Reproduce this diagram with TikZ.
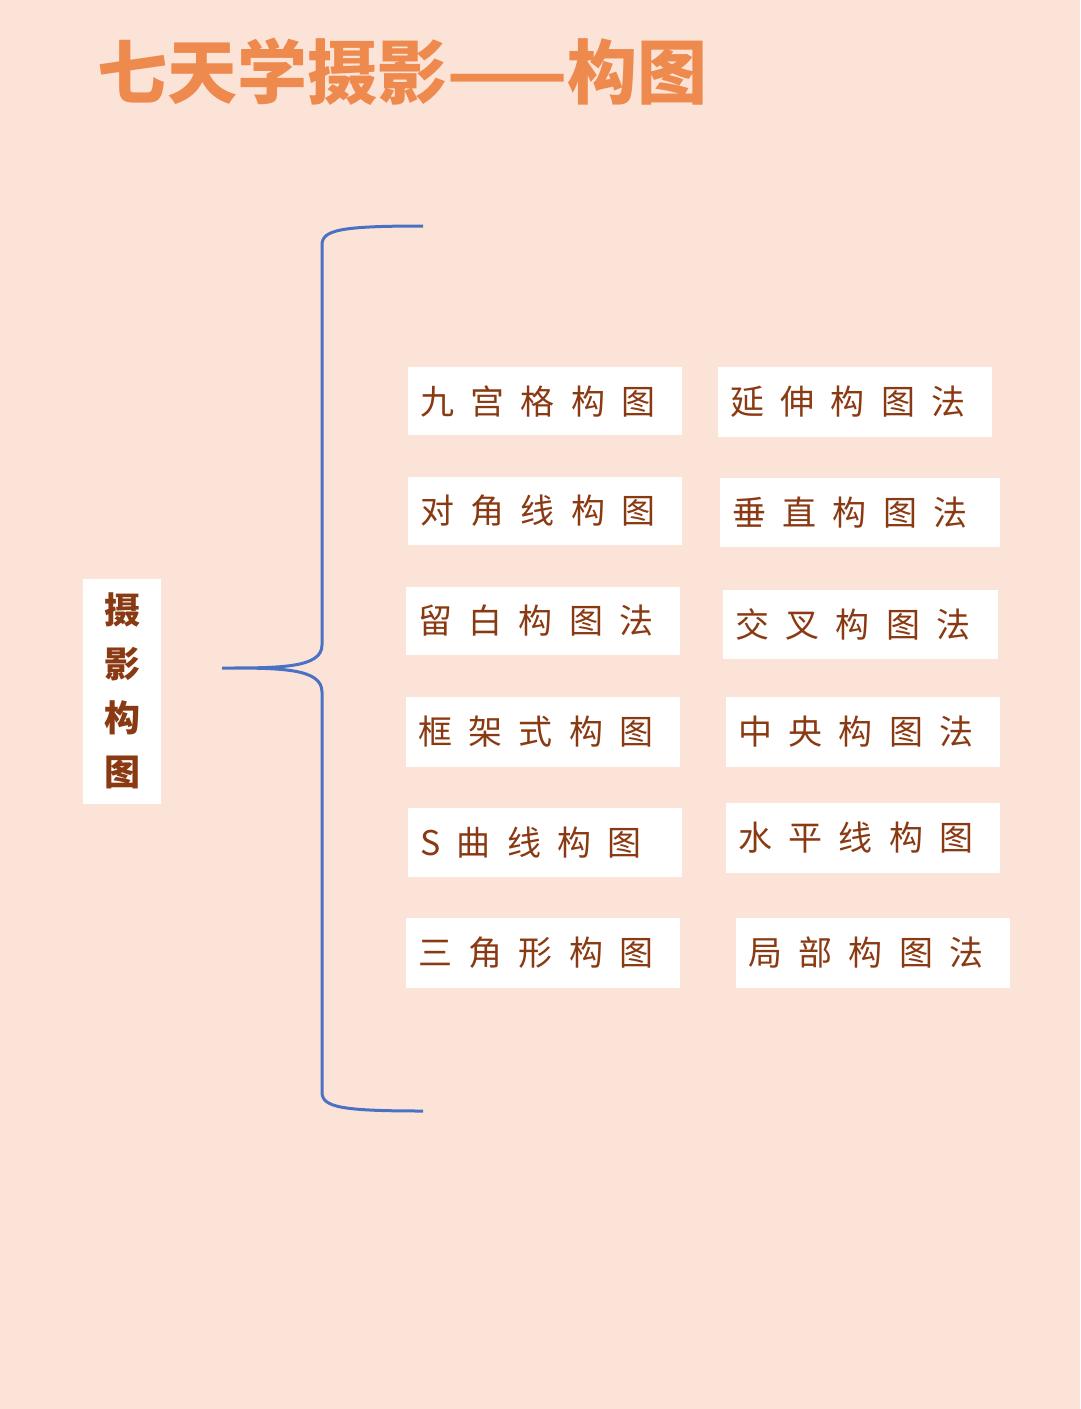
\documentclass[tikz,border=0pt]{standalone}
\usepackage{fontspec}
\newfontfamily\cjk[LetterSpace=48]{Noto Sans CJK SC}
\newfontfamily\cjkn{Noto Sans CJK SC}
\definecolor{bg}{HTML}{FCE3D8}
\definecolor{tx}{HTML}{8A3A12}
\definecolor{br}{HTML}{4A72C4}
\definecolor{ti}{HTML}{EE8A4E}
\begin{document}
\begin{tikzpicture}[x=1pt,y=-1pt,
  box/.style={fill=white,inner sep=0pt,font=\cjk\fontsize{34}{40}\selectfont,text=tx}]
\fill[bg] (0,0) rectangle (1080,1409);
\useasboundingbox (0,0) rectangle (1080,1409);
\node[text=ti,font=\cjkn\fontsize{70}{78}\selectfont\bfseries,anchor=west,inner sep=0pt] (title) at (97,72) {七天学摄影——构图};
\draw[br,line width=3pt] (423,226) .. controls (340,226) and (322,230) .. (322,245)
  -- (322,645) .. controls (322,668) and (280,668) .. (222,668)
  (222,668) .. controls (280,668) and (322,668) .. (322,692)
  -- (322,1092) .. controls (322,1107) and (340,1111) .. (423,1111);
\node[fill=white,minimum width=78pt,minimum height=225pt,text=tx,align=center,inner sep=0pt,font=\cjkn\fontsize{36}{54}\selectfont\bfseries] (main) at (122,691) {摄\\影\\构\\图};
\foreach \n/\a/\b/\c/\d/\t in {
 l1/408/367/682/435/九宫格构图, l2/408/477/682/545/对角线构图, l3/406/587/680/655/留白构图法,
 l4/406/697/680/767/框架式构图, l5/408/808/682/877/S曲线构图, l6/406/918/680/988/三角形构图,
 r1/718/367/992/437/延伸构图法, r2/720/478/1000/547/垂直构图法, r3/723/590/998/659/交叉构图法,
 r4/726/697/1000/767/中央构图法, r5/726/803/1000/873/水平线构图, r6/736/918/1010/988/局部构图法}{
 \fill[white] (\a,\b) rectangle (\c,\d);
 \node[box,anchor=west] (\n) at ({\a+12},{(\b+\d)/2}) {\t};
}
\end{tikzpicture}
\end{document}
